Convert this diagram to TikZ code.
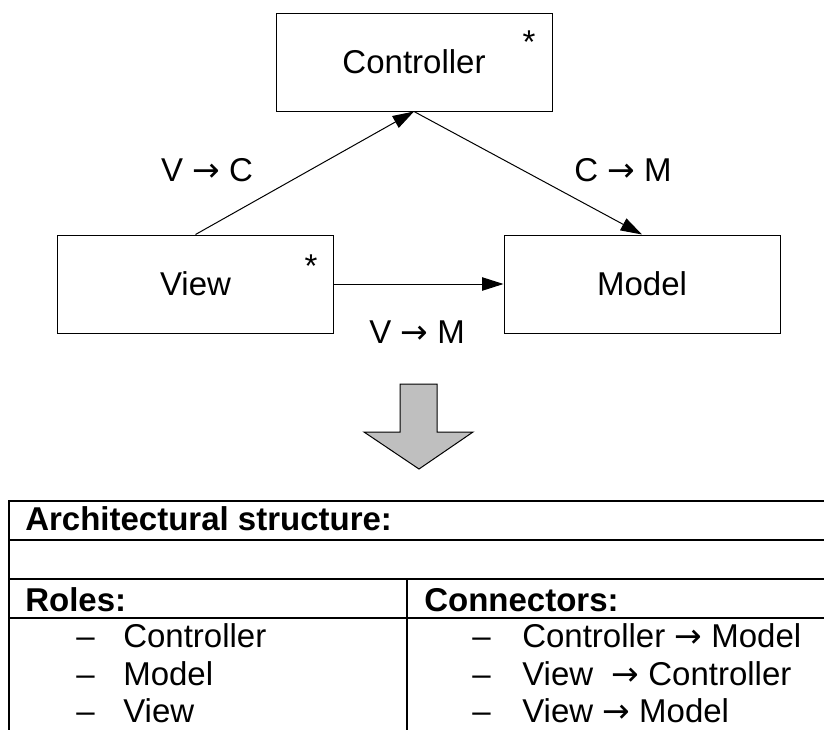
\documentclass[tikz,border=0pt]{standalone}
\usepackage{fontspec}
\setmainfont{Liberation Sans}
\newfontfamily\arrowfont{DejaVu Sans}
\newcommand{\toarrow}{{\arrowfont →}}
\usetikzlibrary{arrows.meta}

\begin{document}
\begin{tikzpicture}[x=0.75pt,y=-0.75pt,
  box/.style={draw=black, line width=0.75pt, minimum width=207pt, minimum height=73.5pt, inner sep=0pt, font=\fontsize{24.75}{29}\selectfont},
  txt/.style={inner sep=0pt, font=\fontsize{24.75}{29}\selectfont},
  head/.style={inner sep=0pt, font=\fontsize{24.75}{29}\selectfont\bfseries},
  conn/.style={line width=0.75pt, -{Triangle[length=16pt,width=10pt]}},
  rule/.style={line width=1.2pt}]
\path[use as bounding box] (0,0) rectangle (824,729);
\clip (0,0) rectangle (824,729);
% roles
\node[box] (ctrl) at (414,62) {Controller};
\node[box] (view) at (195.5,284) {View};
\node[box] (model) at (642,284) {Model};
\node[txt, anchor=base] (ctrlstar) at (529,53) {*};
\node[txt, anchor=base] (viewstar) at (311,277) {*};
% connectors
\draw[conn] (view.north) -- (ctrl.south);
\draw[conn] (ctrl.south) -- (model.north);
\draw[conn] (view.east) -- (model.west);
\node[txt, anchor=base] (lblvc) at (207,181) {V \toarrow{} C};
\node[txt, anchor=base] (lblcm) at (623,181) {C \toarrow{} M};
\node[txt, anchor=base] (lblvm) at (417,343) {V \toarrow{} M};
% big arrow
\filldraw[fill=black!25, draw=black, line width=0.75pt] (400,384) -- (437,384) -- (437,432) -- (473,432) -- (419,469) -- (364,432) -- (400,432) -- cycle;
% table
\draw[rule] (830,501) -- (9,501) -- (9,735);
\draw[rule] (9,540) -- (830,540);
\draw[rule] (9,579) -- (830,579);
\draw[rule] (9,618) -- (830,618);
\draw[rule] (407,579) -- (407,735);
\node[head, anchor=base west] (hdr) at (25,530) {Architectural structure:};
\node[head, anchor=base west] (roles) at (25,611) {Roles:};
\node[head, anchor=base west] (conns) at (424,611) {Connectors:};
\foreach \y/\r/\c in {647/Controller/Controller \toarrow{} Model, 685/Model/View~~\toarrow{} Controller, 722/View/View \toarrow{} Model}{
  \node[txt, anchor=base west] at (76,\y) {–};
  \node[txt, anchor=base west] at (123,\y) {\r};
  \node[txt, anchor=base west] at (472,\y) {–};
  \node[txt, anchor=base west] at (522,\y) {\c};
}
\end{tikzpicture}
\end{document}
